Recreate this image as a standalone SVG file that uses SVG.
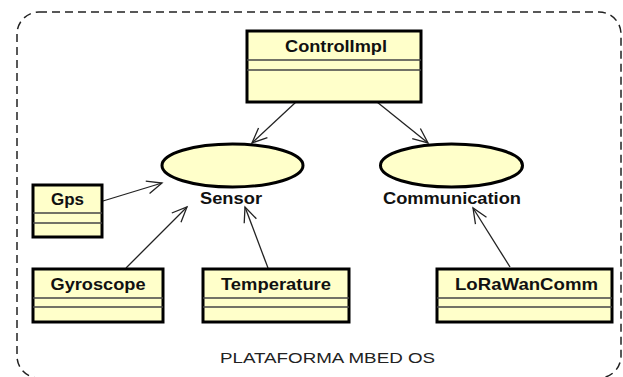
<svg xmlns="http://www.w3.org/2000/svg" width="623" height="377" viewBox="0 0 623 377">
<style>
.box{fill:#FFFFCA;stroke:#000;stroke-width:3}
.div{stroke:#444;stroke-width:1.5}
.ell{fill:#FFFFCA;stroke:#000;stroke-width:3}
.lbl{font-family:"Liberation Sans",Arial,sans-serif;font-weight:bold;font-size:16.5px;fill:#111;text-anchor:middle}
.conn{stroke:#222;stroke-width:1.3;fill:none;marker-end:url(#open)}
.frame{fill:none;stroke:#222;stroke-width:1.5;stroke-dasharray:8 5}
.plat{font-family:"Liberation Sans",Arial,sans-serif;font-size:15.5px;fill:#222;text-anchor:middle}
</style>
<defs>
<marker id="open" markerUnits="userSpaceOnUse" markerWidth="20" markerHeight="20" refX="0" refY="0" viewBox="-16 -10 20 20" orient="auto">
<path d="M-15,-6.5 L0,0 L-15,6.5" fill="none" stroke="#222" stroke-width="1.3"/>
</marker>
</defs>
<rect class="frame" x="17" y="12" width="604" height="366" rx="22" ry="22"/>
<text class="plat" x="327.5" y="363" textLength="215" lengthAdjust="spacingAndGlyphs">PLATAFORMA MBED OS</text>
<g id="connectors">
<line class="conn" x1="296" y1="102" x2="252" y2="143"/>
<line class="conn" x1="377" y1="102" x2="428" y2="143"/>
<line class="conn" x1="103" y1="201" x2="162" y2="183"/>
<line class="conn" x1="126" y1="268" x2="187" y2="207"/>
<line class="conn" x1="268" y1="268" x2="245" y2="207"/>
<line class="conn" x1="510" y1="267" x2="473" y2="208"/>
</g>
<g id="ControlImpl">
<rect class="box" x="247" y="31" width="174" height="71"/>
<line class="div" x1="247" y1="60" x2="421" y2="60"/>
<line class="div" x1="247" y1="70" x2="421" y2="70"/>
<text class="lbl" x="336" y="52" textLength="102" lengthAdjust="spacingAndGlyphs">ControlImpl</text>
</g>
<g id="Sensor">
<ellipse class="ell" cx="232.5" cy="165.5" rx="70.5" ry="21.5"/>
<text class="lbl" x="231" y="204" textLength="62" lengthAdjust="spacingAndGlyphs">Sensor</text>
</g>
<g id="Communication">
<ellipse class="ell" cx="451.5" cy="165.5" rx="71" ry="21.5"/>
<text class="lbl" x="452" y="204" textLength="138" lengthAdjust="spacingAndGlyphs">Communication</text>
</g>
<g id="Gps">
<rect class="box" x="33" y="185" width="69" height="52"/>
<line class="div" x1="33" y1="213" x2="102" y2="213"/>
<line class="div" x1="33" y1="223" x2="102" y2="223"/>
<text class="lbl" x="67.5" y="205" textLength="33" lengthAdjust="spacingAndGlyphs">Gps</text>
</g>
<g id="Gyroscope">
<rect class="box" x="33" y="269" width="130" height="53"/>
<line class="div" x1="33" y1="298" x2="163" y2="298"/>
<line class="div" x1="33" y1="307" x2="163" y2="307"/>
<text class="lbl" x="98" y="290" textLength="95" lengthAdjust="spacingAndGlyphs">Gyroscope</text>
</g>
<g id="Temperature">
<rect class="box" x="203" y="269" width="146" height="53"/>
<line class="div" x1="203" y1="298" x2="349" y2="298"/>
<line class="div" x1="203" y1="307" x2="349" y2="307"/>
<text class="lbl" x="276" y="290" textLength="110" lengthAdjust="spacingAndGlyphs">Temperature</text>
</g>
<g id="LoRaWanComm">
<rect class="box" x="437" y="269" width="175" height="53"/>
<line class="div" x1="437" y1="298" x2="612" y2="298"/>
<line class="div" x1="437" y1="307" x2="612" y2="307"/>
<text class="lbl" x="526.5" y="290" textLength="143" lengthAdjust="spacingAndGlyphs">LoRaWanComm</text>
</g>
</svg>
